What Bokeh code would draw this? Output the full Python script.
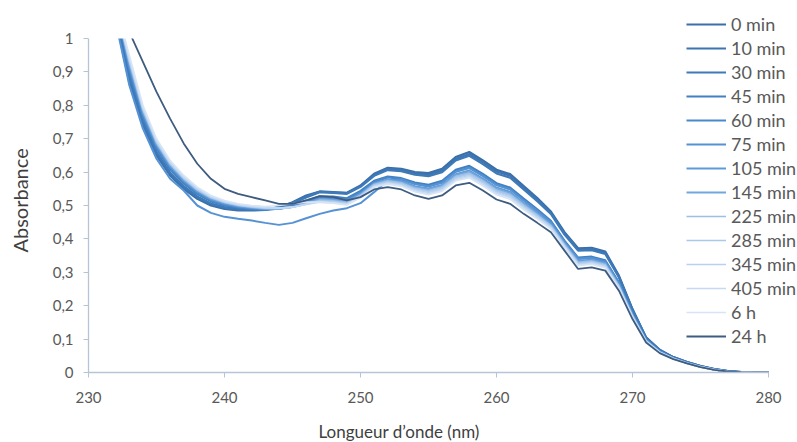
from bokeh.plotting import figure
from bokeh.models import (Legend, LegendItem, FixedTicker, CustomJSTickFormatter, Range1d,
                          BoxAnnotation, Title)
from bokeh.embed import file_html
from bokeh.resources import INLINE

wavelength = list(range(232, 281))

series_names = ["0 min", "10 min", "30 min", "45 min", "60 min", "75 min", "105 min",
                "145 min", "225 min", "285 min", "345 min", "405 min", "6 h", "24 h"]

a_0min = [1.06, 0.87, 0.74, 0.65, 0.59, 0.55, 0.52, 0.50, 0.49,
          0.485, 0.485, 0.487, 0.495, 0.51, 0.53, 0.542, 0.54, 0.538, 0.56,
          0.595, 0.613, 0.61, 0.60, 0.597, 0.61, 0.645, 0.66, 0.635, 0.607,
          0.594, 0.558, 0.522, 0.482, 0.42, 0.372, 0.373, 0.362, 0.29, 0.19,
          0.105, 0.068, 0.046, 0.031, 0.019, 0.01, 0.004, 0.001, 0.0, 0.0]
a_10min = [1.072, 0.878, 0.746, 0.655, 0.595, 0.554, 0.524, 0.503, 0.493,
           0.487, 0.487, 0.488, 0.495, 0.508, 0.527, 0.541, 0.539, 0.537, 0.558,
           0.592, 0.610, 0.606, 0.596, 0.592, 0.605, 0.640, 0.654, 0.630, 0.602,
           0.589, 0.553, 0.518, 0.478, 0.417, 0.368, 0.370, 0.359, 0.287, 0.188,
           0.104, 0.067, 0.046, 0.031, 0.019, 0.01, 0.004, 0.001, 0.0, 0.0]
a_30min = [1.084, 0.886, 0.752, 0.66, 0.599, 0.558, 0.527, 0.506, 0.495,
           0.489, 0.488, 0.489, 0.494, 0.506, 0.524, 0.540, 0.538, 0.535, 0.556,
           0.589, 0.606, 0.603, 0.592, 0.588, 0.600, 0.635, 0.649, 0.624, 0.596,
           0.583, 0.548, 0.513, 0.475, 0.413, 0.365, 0.366, 0.355, 0.285, 0.186,
           0.103, 0.067, 0.045, 0.031, 0.019, 0.01, 0.004, 0.001, 0.0, 0.0]
a_45min = [1.10, 0.902, 0.764, 0.67, 0.608, 0.566, 0.534, 0.512, 0.50,
           0.493, 0.489, 0.487, 0.49, 0.50, 0.515, 0.528, 0.527, 0.522, 0.544,
           0.574, 0.587, 0.582, 0.569, 0.562, 0.574, 0.607, 0.619, 0.595, 0.567,
           0.554, 0.521, 0.489, 0.454, 0.395, 0.344, 0.347, 0.336, 0.27, 0.177,
           0.098, 0.064, 0.043, 0.029, 0.018, 0.009, 0.004, 0.001, 0.0, 0.0]
a_60min = [1.10, 0.91, 0.77, 0.675, 0.613, 0.57, 0.538, 0.515, 0.503,
           0.495, 0.49, 0.488, 0.49, 0.498, 0.512, 0.524, 0.522, 0.518, 0.54,
           0.571, 0.584, 0.579, 0.565, 0.558, 0.57, 0.602, 0.614, 0.59, 0.562,
           0.55, 0.516, 0.485, 0.451, 0.392, 0.341, 0.344, 0.333, 0.267, 0.175,
           0.097, 0.063, 0.043, 0.029, 0.017, 0.009, 0.003, 0.001, 0.0, 0.0]
a_75min = [1.05, 0.86, 0.73, 0.64, 0.58, 0.545, 0.50, 0.478, 0.466,
           0.46, 0.455, 0.448, 0.442, 0.448, 0.462, 0.475, 0.485, 0.492, 0.507,
           0.54, 0.575, 0.578, 0.564, 0.557, 0.568, 0.601, 0.612, 0.588, 0.561,
           0.548, 0.515, 0.484, 0.45, 0.391, 0.34, 0.343, 0.332, 0.267, 0.174,
           0.097, 0.063, 0.043, 0.029, 0.017, 0.009, 0.003, 0.001, 0.0, 0.0]
a_105min = [1.10, 0.918, 0.776, 0.68, 0.617, 0.574, 0.541, 0.518, 0.505,
            0.497, 0.492, 0.489, 0.49, 0.496, 0.508, 0.52, 0.518, 0.514, 0.535,
            0.567, 0.578, 0.573, 0.558, 0.551, 0.562, 0.594, 0.605, 0.581, 0.554,
            0.541, 0.508, 0.478, 0.445, 0.387, 0.335, 0.338, 0.328, 0.263, 0.172,
            0.096, 0.062, 0.042, 0.029, 0.017, 0.009, 0.003, 0.001, 0.0, 0.0]
a_145min = [1.10, 0.926, 0.782, 0.685, 0.622, 0.578, 0.545, 0.521, 0.508,
            0.499, 0.494, 0.49, 0.49, 0.495, 0.506, 0.518, 0.516, 0.511, 0.533,
            0.565, 0.576, 0.57, 0.555, 0.548, 0.559, 0.591, 0.601, 0.577, 0.55,
            0.537, 0.505, 0.475, 0.442, 0.385, 0.332, 0.336, 0.326, 0.261, 0.171,
            0.095, 0.062, 0.042, 0.028, 0.017, 0.009, 0.003, 0.001, 0.0, 0.0]
a_225min = [1.10, 0.93, 0.785, 0.688, 0.624, 0.58, 0.546, 0.523, 0.509,
            0.5, 0.495, 0.491, 0.491, 0.495, 0.505, 0.516, 0.514, 0.509, 0.531,
            0.563, 0.574, 0.568, 0.552, 0.545, 0.556, 0.587, 0.597, 0.574, 0.546,
            0.533, 0.502, 0.472, 0.44, 0.383, 0.33, 0.334, 0.323, 0.259, 0.17,
            0.095, 0.061, 0.042, 0.028, 0.017, 0.009, 0.003, 0.001, 0.0, 0.0]
a_285min = [1.10, 0.934, 0.788, 0.69, 0.626, 0.582, 0.548, 0.524, 0.51,
            0.501, 0.496, 0.492, 0.491, 0.495, 0.504, 0.514, 0.512, 0.507, 0.529,
            0.561, 0.571, 0.565, 0.55, 0.542, 0.552, 0.584, 0.594, 0.57, 0.543,
            0.53, 0.498, 0.469, 0.437, 0.38, 0.327, 0.331, 0.321, 0.258, 0.168,
            0.094, 0.061, 0.042, 0.028, 0.017, 0.009, 0.003, 0.001, 0.0, 0.0]
a_345min = [1.10, 0.938, 0.791, 0.693, 0.628, 0.584, 0.55, 0.526, 0.511,
            0.502, 0.497, 0.493, 0.492, 0.495, 0.504, 0.512, 0.51, 0.505, 0.527,
            0.559, 0.569, 0.563, 0.547, 0.539, 0.549, 0.58, 0.59, 0.567, 0.539,
            0.526, 0.495, 0.466, 0.435, 0.378, 0.325, 0.329, 0.319, 0.256, 0.167,
            0.094, 0.06, 0.041, 0.028, 0.017, 0.008, 0.003, 0.001, 0.0, 0.0]
a_405min = [1.10, 0.942, 0.794, 0.695, 0.63, 0.586, 0.552, 0.527, 0.512,
            0.503, 0.498, 0.494, 0.492, 0.495, 0.503, 0.51, 0.508, 0.503, 0.525,
            0.557, 0.567, 0.56, 0.544, 0.535, 0.546, 0.577, 0.586, 0.563, 0.536,
            0.523, 0.492, 0.463, 0.432, 0.376, 0.322, 0.327, 0.316, 0.254, 0.166,
            0.093, 0.06, 0.041, 0.028, 0.017, 0.008, 0.003, 0.001, 0.0, 0.0]
a_6h = [1.10, 0.95, 0.8, 0.7, 0.635, 0.59, 0.555, 0.53, 0.515,
        0.505, 0.5, 0.497, 0.5, 0.505, 0.51, 0.51, 0.507, 0.502, 0.523,
        0.555, 0.564, 0.558, 0.541, 0.532, 0.543, 0.574, 0.583, 0.559, 0.532,
        0.519, 0.488, 0.46, 0.43, 0.374, 0.32, 0.324, 0.314, 0.252, 0.165,
        0.092, 0.06, 0.041, 0.028, 0.016, 0.008, 0.003, 0.001, 0.0, 0.0]
a_24h = [1.10, 1.02, 0.93, 0.84, 0.76, 0.686, 0.625, 0.58, 0.55,
         0.535, 0.525, 0.515, 0.505, 0.505, 0.515, 0.528, 0.525, 0.515, 0.525,
         0.548, 0.555, 0.548, 0.53, 0.52, 0.53, 0.56, 0.568, 0.545, 0.518,
         0.505, 0.475, 0.448, 0.42, 0.365, 0.31, 0.315, 0.305, 0.245, 0.16,
         0.09, 0.058, 0.04, 0.027, 0.016, 0.008, 0.003, 0.001, 0.0, 0.0]

all_series = [a_0min, a_10min, a_30min, a_45min, a_60min, a_75min, a_105min,
              a_145min, a_225min, a_285min, a_345min, a_405min, a_6h, a_24h]

colors = ["#3a6fa8", "#3d75b2", "#3e79b8", "#4180c2", "#4a88cc", "#5592d4", "#5e9ad8",
          "#72a7de", "#9cbfe6", "#a9c8eb", "#b7d1ef", "#c5daf2", "#d6e4f5", "#3e5c80"]
widths = [2.2, 2.2, 2.2, 2.0, 2.0, 2.0, 1.8, 1.8, 1.6, 1.6, 1.6, 1.6, 1.6, 1.8]

x_min, x_max = 230, 280
y_min, y_max = 0, 1
x_ticks = [230, 240, 250, 260, 270, 280]
y_ticks = [0, 0.1, 0.2, 0.3, 0.4, 0.5, 0.6, 0.7, 0.8, 0.9, 1.0]

FONT = "Lato"
TXT = "#595959"
AX = "#b7c4d6"

W, H = 797, 442
LEFT, RIGHT_AXIS_END, TOP_AXIS_END, BOTTOM = 88, 768, 38, 372
px_per_x = (RIGHT_AXIS_END - LEFT) / (x_max - x_min)
px_per_y = (BOTTOM - TOP_AXIS_END) / (y_max - y_min)
# frame reaches the right/top page edges so the legend is not clipped;
# the axes themselves are bounded to the data domain
x_end = x_min + (W - LEFT) / px_per_x
y_end = y_min + BOTTOM / px_per_y

p = figure(width=W, height=H, output_backend="svg", toolbar_location=None,
           x_range=Range1d(x_min, x_end), y_range=Range1d(y_min, y_end),
           min_border_left=LEFT, min_border_right=0, min_border_top=0,
           min_border_bottom=H - BOTTOM)
p.outline_line_color = None
p.xgrid.grid_line_color = None
p.ygrid.grid_line_color = None
p.background_fill_color = "white"
p.border_fill_color = "white"

items = []
for name, vals, col, w in zip(series_names, all_series, colors, widths):
    r = p.line(wavelength, vals, line_color=col, line_width=w)
    items.append(LegendItem(label=name, renderers=[r]))

# hide whatever lies above the top of the value axis (the reference clips at 1)
p.add_layout(BoxAnnotation(bottom=y_max, fill_color="white",
                           fill_alpha=1.0, line_color=None))

p.xaxis.ticker = FixedTicker(ticks=x_ticks)
p.yaxis.ticker = FixedTicker(ticks=y_ticks)
p.xaxis.bounds = (x_min, x_max)
p.yaxis.bounds = (y_min, y_max)
p.yaxis.formatter = CustomJSTickFormatter(code="var s = (Math.round(tick*10)/10).toString(); return s.replace('.', ',');")

for ax in [p.xaxis[0], p.yaxis[0]]:
    ax.axis_line_color = AX
    ax.axis_line_width = 1.3
    ax.major_tick_line_color = AX
    ax.major_tick_in = 0
    ax.major_tick_out = 5
    ax.minor_tick_line_color = None
    ax.major_label_text_font = FONT
    ax.major_label_text_font_size = "15px"
    ax.major_label_text_color = TXT

p.xaxis.major_label_standoff = 14
p.yaxis.major_label_standoff = 10

# blank spacers push the axis titles outward without shrinking the plot frame
p.add_layout(Title(text=" ", text_font_size="8px", standoff=2), "below")
x_title = Title(text="Longueur d\u2019onde (nm)", align="left", offset=230, standoff=0,
                text_font=FONT, text_font_size="17px", text_font_style="normal",
                text_color="#404040")
p.add_layout(x_title, "below")

p.add_layout(Title(text=" ", text_font_size="8px", standoff=7), "left")
y_title = Title(text="Absorbance", align="left", offset=120, standoff=0,
                text_font=FONT, text_font_size="20px", text_font_style="normal",
                text_color="#404040")
p.add_layout(y_title, "left")

legend = Legend(items=items, location=(598, 25), orientation="vertical",
                glyph_width=40, glyph_height=22, label_height=22, spacing=2,
                padding=0, margin=0, label_standoff=5,
                label_text_font=FONT, label_text_font_size="18px", label_text_color=TXT,
                background_fill_alpha=0, border_line_color=None)
p.add_layout(legend, "center")

open("out.html", "w").write(file_html(p, INLINE))
